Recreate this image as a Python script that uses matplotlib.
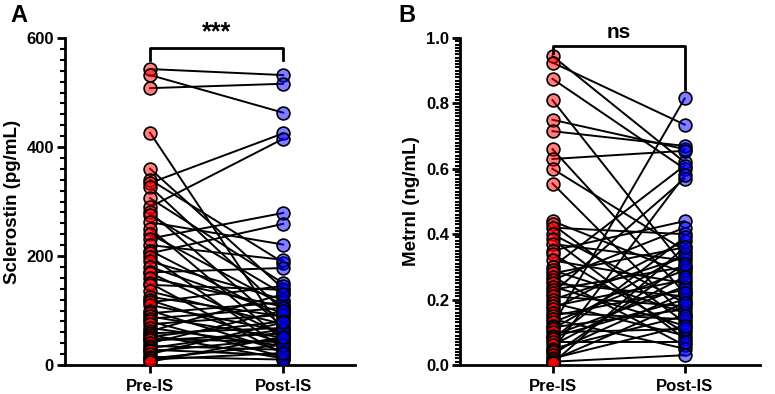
import matplotlib
matplotlib.use("Agg")
import matplotlib.pyplot as plt
from matplotlib.ticker import MultipleLocator, FormatStrFormatter

plt.rcParams['font.family'] = ['Liberation Sans', 'DejaVu Sans']
plt.rcParams['font.weight'] = 'bold'

groups = ["Pre-IS", "Post-IS"]

scl_pre = [543, 532, 508, 426, 360, 340, 334, 327, 306, 290, 280, 275, 262, 250, 240,
           232, 220, 210, 205, 199, 190, 180, 170, 169, 160, 150, 147, 135, 125, 119,
           115, 110, 100, 95, 89, 85, 80, 75, 68, 62, 58, 55, 52, 48, 45, 40, 35, 31,
           28, 25, 20, 15, 12, 10, 6]
scl_post = [532, 463, 516, 60, 140, 188, 425, 100, 150, 415, 70, 130, 221, 45, 110,
            279, 193, 85, 259, 30, 120, 95, 178, 55, 107, 20, 138, 75, 89, 40,
            145, 62, 25, 115, 50, 105, 15, 92, 35, 130, 68, 12, 80, 42, 58, 100, 28, 65,
            18, 48, 78, 10, 37, 22, 52]

met_pre = [0.945, 0.925, 0.875, 0.81, 0.75, 0.715, 0.66, 0.63, 0.60, 0.555, 0.44, 0.43,
           0.42, 0.40, 0.385, 0.37, 0.35, 0.34, 0.32, 0.30, 0.29, 0.28, 0.27, 0.26, 0.25,
           0.24, 0.23, 0.22, 0.21, 0.20, 0.19, 0.18, 0.17, 0.16, 0.15, 0.14, 0.13, 0.12,
           0.115, 0.11, 0.10, 0.09, 0.085, 0.08, 0.07, 0.06, 0.05, 0.045, 0.04, 0.03,
           0.02, 0.015, 0.01, 0.005]
met_post = [0.62, 0.735, 0.60, 0.30, 0.66, 0.67, 0.22, 0.655, 0.35, 0.15, 0.28, 0.13,
            0.40, 0.19, 0.08, 0.32, 0.44, 0.10, 0.25, 0.61, 0.16, 0.36, 0.06, 0.42, 0.21,
            0.12, 0.30, 0.57, 0.18, 0.33, 0.09, 0.26, 0.38, 0.14, 0.23, 0.05, 0.29, 0.815,
            0.17, 0.34, 0.11, 0.24, 0.20, 0.39, 0.07, 0.27, 0.15, 0.58, 0.22, 0.31,
            0.12, 0.19, 0.03, 0.36]

fig = plt.figure(figsize=(7.75, 3.94), dpi=100)
axA = fig.add_axes([65/775, 1-365/394, 290/775, 327/394])
axB = fig.add_axes([460/775, 1-365/394, 300/775, 327/394])

red_fc = (1.0, 0.0, 0.0, 0.5)
blue_fc = (0.0, 0.0, 1.0, 0.5)


def draw(ax, pre, post, ylim, major, minor, ylabel, sig, sigsize, bracket, xlim):
    for a, b in zip(pre, post):
        ax.plot([0, 1], [a, b], color='black', lw=1.4, zorder=2)
    ax.scatter([0]*len(pre), pre, s=85, facecolor=red_fc, edgecolor='black',
               linewidth=1.2, zorder=3)
    ax.scatter([1]*len(post), post, s=85, facecolor=blue_fc, edgecolor='black',
               linewidth=1.2, zorder=3)
    ax.set_xlim(*xlim)
    ax.set_ylim(*ylim)
    ax.set_xticks([0, 1])
    ax.set_xticklabels(groups, fontsize=12, fontweight='bold')
    ax.yaxis.set_major_locator(MultipleLocator(major))
    ax.yaxis.set_minor_locator(MultipleLocator(minor))
    ax.set_ylabel(ylabel, fontsize=13.5, fontweight='bold', labelpad=4)
    for s in ['top', 'right']:
        ax.spines[s].set_visible(False)
    for s in ['left', 'bottom']:
        ax.spines[s].set_linewidth(2)
    ax.tick_params(axis='both', which='major', width=2, length=6, labelsize=12, pad=2)
    ax.tick_params(axis='x', which='major', pad=4)
    ax.tick_params(axis='y', which='minor', width=1.5, length=3.5)
    ytop, yl, yr = bracket
    ax.plot([0, 0, 1, 1], [yl, ytop, ytop, yr], color='black', lw=2, clip_on=False,
            zorder=4)
    ax.text(0.5, ytop + (ylim[1]-ylim[0])*0.012, sig, ha='center', va='bottom',
            fontsize=sigsize, fontweight='bold')


draw(axA, scl_pre, scl_post, (0, 600), 200, 20, 'Sclerostin (pg/mL)', '***', 18,
     (582, 560, 560), (-0.64, 1.54))
draw(axB, met_pre, met_post, (0, 1.0), 0.2, 0.01, 'Metrnl (ng/mL)', 'ns', 15,
     (0.975, 0.955, 0.845), (-0.70, 1.57))
axB.yaxis.set_major_formatter(FormatStrFormatter('%.1f'))
for ax in (axA, axB):
    for lbl in ax.get_yticklabels() + ax.get_xticklabels():
        lbl.set_fontweight('bold')

fig.text(10/775, 1-15/394, 'A', fontsize=17, fontweight='bold', va='center')
fig.text(398/775, 1-15/394, 'B', fontsize=17, fontweight='bold', va='center')

fig.savefig('out.png', dpi=100)
